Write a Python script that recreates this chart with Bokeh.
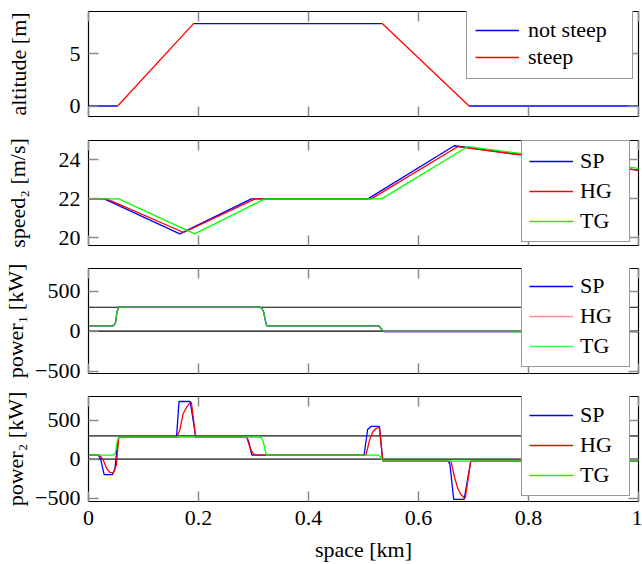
from bokeh.plotting import figure
from bokeh.layouts import column
from bokeh.models import (Range1d, FixedTicker, LinearAxis, Span, Legend, LegendItem,
                          CustomLabelingPolicy)
from bokeh.embed import file_html
from bokeh.resources import INLINE

FONT = "Liberation Serif"
FS = "22px"

# ---------------- data ----------------
X_TICKS = [0, 0.2, 0.4, 0.6, 0.8, 1.0]
X_TICK_LABELS = ["0", "0.2", "0.4", "0.6", "0.8", "1"]

# altitude profile (segment colour: steep or not)
ALT_X = [0.0, 0.053, 0.191, 0.534, 0.692, 1.0]
ALT_Y = [0.0, 0.0, 7.85, 7.85, 0.0, 0.0]
ALT_STEEP = [False, True, False, True, False]

# speed of train 2 [m/s]
SP_SPEED_X = [0.0, 0.0285, 0.166, 0.296, 0.508, 0.665, 1.0]
SP_SPEED_Y = [22.0, 22.0, 20.2, 22.0, 22.0, 24.73, 23.46]
HG_SPEED_X = [0.0, 0.033, 0.173, 0.303, 0.514, 0.671, 1.0]
HG_SPEED_Y = [22.0, 22.0, 20.27, 22.0, 22.0, 24.68, 23.48]
TG_SPEED_X = [0.0, 0.055, 0.193, 0.321, 0.533, 0.689, 1.0]
TG_SPEED_Y = [22.0, 22.0, 20.2, 22.0, 22.0, 24.68, 23.57]

# power of train 1 [kW] (all three controllers coincide)
P1_X = [0.0, 0.045, 0.049, 0.052, 0.055, 0.311, 0.315, 0.318, 0.321, 0.324,
        0.528, 0.531, 0.534, 0.537, 1.0]
P1_Y = [67, 67, 100, 250, 300, 300, 290, 250, 150, 67, 67, 40, 10, -5, -5]
P1_LIMITS = [0, 300]

# power of train 2 [kW]
SP_P2_X = [0.0, 0.018, 0.022, 0.0285, 0.0436, 0.048, 0.052, 0.055, 0.160, 0.1646,
           0.185, 0.195, 0.288, 0.291, 0.297, 0.501, 0.5075, 0.5136, 0.529, 0.535,
           0.653, 0.657, 0.664, 0.683, 0.695, 1.0]
SP_P2_Y = [50, 50, 0, -200, -200, -130, 150, 280, 280, 741, 741, 280, 280, 230, 50,
           50, 381, 420, 420, -25, -25, -60, -517, -517, -25, -25]
HG_P2_X = [0.0, 0.020, 0.0266, 0.0327, 0.0387, 0.0448, 0.0508, 0.055, 0.160, 0.166,
           0.172, 0.178, 0.184, 0.187, 0.195, 0.288, 0.292, 0.296, 0.300, 0.307,
           0.5045, 0.511, 0.517, 0.523, 0.529, 0.535, 0.659, 0.665, 0.671, 0.677,
           0.683, 0.685, 0.695, 1.0]
HG_P2_Y = [50, 50, -9, -115, -170, -178, -72, 280, 280, 372, 584, 661, 719, 731, 280,
           280, 182, 110, 65, 50, 50, 245, 351, 394, 407, -25, -25, -221, -368, -454,
           -496, -500, -25, -25]
TG_P2_X = [0.0, 0.045, 0.049, 0.052, 0.055, 0.311, 0.315, 0.318, 0.321, 0.324,
           0.527, 0.531, 0.534, 0.538, 1.0]
TG_P2_Y = [50, 50, 80, 220, 283, 283, 273, 220, 120, 50, 50, 30, -10, -25, -25]
P2_LIMITS = [0, 300]

BLUE, RED, GREEN = "#0000ff", "#ff0000", "#00ff00"
TICK_COLOR = "#8c8c8c"

NO_LABELS = """
try { for (const i of Array.from(indices)) { indices.unset(i) } } catch (e) {}
return indices
"""


def style_axis(ax, ticks, labels=None, show_labels=True):
    ax.ticker = FixedTicker(ticks=ticks)
    ax.major_tick_in = 10
    ax.major_tick_out = 0
    ax.major_tick_line_color = TICK_COLOR
    ax.major_tick_line_width = 1.5
    ax.minor_tick_line_color = None
    ax.axis_line_color = None
    ax.major_label_text_font = FONT
    ax.major_label_text_color = "black"
    ax.axis_label_text_font = FONT
    ax.axis_label_text_font_size = FS
    ax.axis_label_text_font_style = "normal"
    ax.axis_label_text_color = "black"
    if labels is not None:
        ax.major_label_overrides = {t: l for t, l in zip(ticks, labels)}
    if show_labels:
        ax.major_label_text_font_size = FS
        ax.major_label_standoff = 8
    else:
        ax.major_label_text_font_size = "0px"
        ax.major_label_standoff = 0
        ax.major_label_policy = CustomLabelingPolicy(code=NO_LABELS)


def make_fig(height, yr, yticks, ylabels, ylabel, lab_standoff, bottom, show_x):
    p = figure(width=642, height=height, x_range=Range1d(0, 1), y_range=Range1d(*yr),
               output_backend="svg", toolbar_location=None,
               min_border_left=87, min_border_right=4, min_border_top=11,
               min_border_bottom=bottom)
    p.grid.visible = False
    p.outline_line_color = "black"
    p.outline_line_width = 1.2
    p.background_fill_color = "white"
    p.border_fill_color = "white"
    xb = p.below[0]
    yl = p.left[0]
    style_axis(xb, X_TICKS, X_TICK_LABELS, show_labels=show_x)
    style_axis(yl, yticks, ylabels, show_labels=True)
    yl.axis_label = ylabel
    yl.axis_label_standoff = lab_standoff
    top = LinearAxis()
    style_axis(top, X_TICKS, show_labels=False)
    p.add_layout(top, "above")
    right = LinearAxis()
    style_axis(right, yticks, show_labels=False)
    p.add_layout(right, "right")
    return p, xb


def make_legend(items, loc, padding, spacing, label_width, standoff):
    lg = Legend(items=items, location=loc)
    lg.label_text_font = FONT
    lg.label_text_font_size = FS
    lg.label_text_color = "black"
    lg.glyph_width = 44
    lg.glyph_height = 24
    lg.label_height = 24
    lg.label_width = label_width
    lg.label_standoff = standoff
    lg.padding = padding
    lg.spacing = spacing
    lg.margin = 0
    lg.border_line_color = "#333333"
    lg.border_line_width = 1.2
    lg.background_fill_color = "white"
    lg.background_fill_alpha = 1.0
    return lg


# ---------------- panel 1: altitude ----------------
p1, _ = make_fig(129, (-1.0, 9.0), [0, 5], ["0", "5"], "altitude [m]", 36, 13, False)
flat_xs, flat_ys, steep_xs, steep_ys = [], [], [], []
for i, st in enumerate(ALT_STEEP):
    seg_x = [ALT_X[i], ALT_X[i + 1]]
    seg_y = [ALT_Y[i], ALT_Y[i + 1]]
    if st:
        steep_xs.append(seg_x); steep_ys.append(seg_y)
    else:
        flat_xs.append(seg_x); flat_ys.append(seg_y)
r_flat = p1.multi_line(flat_xs, flat_ys, line_color=BLUE, line_width=1.3)
r_steep = p1.multi_line(steep_xs, steep_ys, line_color=RED, line_width=1.3)
p1.add_layout(make_legend([LegendItem(label="not steep", renderers=[r_flat]),
                           LegendItem(label="steep", renderers=[r_steep])],
                          (378, 37), 8, 1, 96, 9))

# ---------------- panel 2: speed ----------------
p2, _ = make_fig(128, (19.6, 25.0), [20, 22, 24], ["20", "22", "24"], "speed\u2082 [m/s]", 26, 12, False)
r1 = p2.line(SP_SPEED_X, SP_SPEED_Y, line_color=BLUE, line_width=1.3)
r2 = p2.line(HG_SPEED_X, HG_SPEED_Y, line_color=RED, line_width=1.3)
r3 = p2.line(TG_SPEED_X, TG_SPEED_Y, line_color=GREEN, line_width=1.3)
p2.add_layout(make_legend([LegendItem(label="SP", renderers=[r1]),
                           LegendItem(label="HG", renderers=[r2]),
                           LegendItem(label="TG", renderers=[r3])],
                          (433, 3), 7, 4, 42, 7))

# ---------------- panel 3: power 1 ----------------
p3, _ = make_fig(128, (-530, 785), [-500, 0, 500], ["\u2212500", "0", "500"], "power\u2081 [kW]", 4, 12, False)
for lim in P1_LIMITS:
    p3.add_layout(Span(location=lim, dimension="width", line_color="black", line_width=1.2, level="underlay"))
r1 = p3.line(P1_X, P1_Y, line_color=BLUE, line_width=1.3)
r2 = p3.line(P1_X, P1_Y, line_color=RED, line_width=1.3, line_alpha=0.45)
r3 = p3.line(P1_X, P1_Y, line_color=GREEN, line_width=1.4, line_alpha=0.75)
p3.add_layout(make_legend([LegendItem(label="SP", renderers=[r1]),
                           LegendItem(label="HG", renderers=[r2]),
                           LegendItem(label="TG", renderers=[r3])],
                          (433, 6), 7, 4, 42, 7))

# ---------------- panel 4: power 2 ----------------
p4, xb4 = make_fig(179, (-545, 805), [-500, 0, 500], ["\u2212500", "0", "500"], "power\u2082 [kW]", 4, 62, True)
xb4.axis_label = "space [km]"
xb4.axis_label_standoff = 9
xb4.major_label_standoff = 9
for lim in P2_LIMITS:
    p4.add_layout(Span(location=lim, dimension="width", line_color="#5a5a5a", line_width=1.8, level="underlay"))
r1 = p4.line(SP_P2_X, SP_P2_Y, line_color=BLUE, line_width=1.3)
r2 = p4.line(HG_P2_X, HG_P2_Y, line_color=RED, line_width=1.3)
r3 = p4.line(TG_P2_X, TG_P2_Y, line_color=GREEN, line_width=1.3)
p4.add_layout(make_legend([LegendItem(label="SP", renderers=[r1]),
                           LegendItem(label="HG", renderers=[r2]),
                           LegendItem(label="TG", renderers=[r3])],
                          (433, 5), 7, 4, 42, 7))

layout = column(p1, p2, p3, p4, spacing=0)
open("out.html", "w").write(file_html(layout, INLINE))
